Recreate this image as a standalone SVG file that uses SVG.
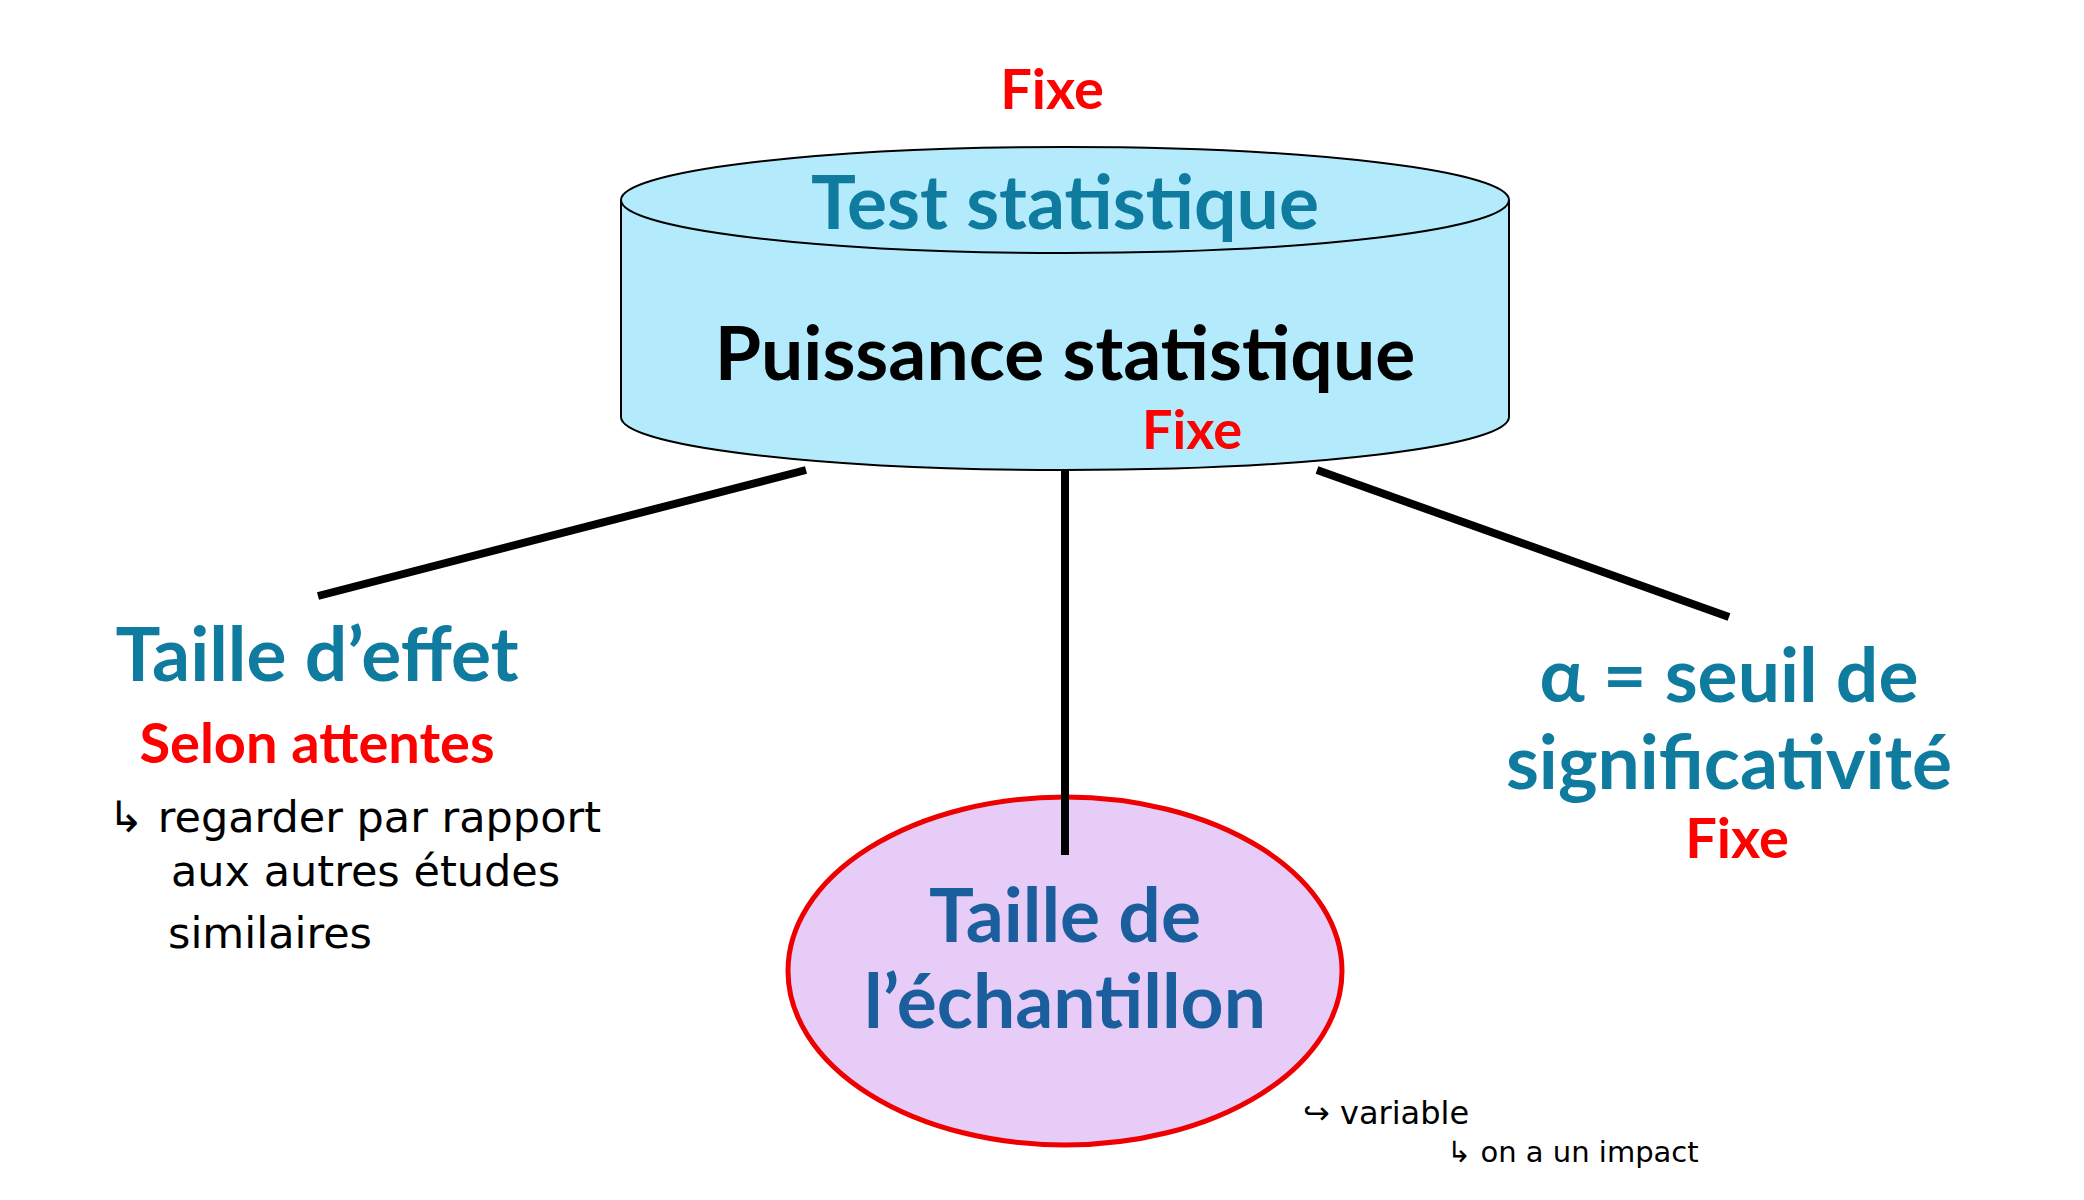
<svg xmlns="http://www.w3.org/2000/svg" width="2084" height="1200" viewBox="0 0 2084 1200">
<style>
.b{font-family:Lato,"Open Sans",sans-serif;font-weight:bold;text-anchor:middle}
.t{fill:#0e7b9f;font-size:75px}
.r{fill:#ff0000;font-size:56px}
.h{font-family:"DejaVu Sans",sans-serif;fill:#000;font-size:43px}
.s{font-family:"DejaVu Sans",sans-serif;fill:#000;font-size:32px}
</style>
<rect width="2084" height="1200" fill="#fff"/>
<g id="cylinder">
<path d="M621 200 L621 417 A444 53 0 0 0 1509 417 L1509 200" fill="#b3ebfd" stroke="#000" stroke-width="2"/>
<ellipse cx="1065" cy="200" rx="444" ry="53" fill="#b3ebfd" stroke="#000" stroke-width="2"/>
<text class="b r" x="1052" y="109">Fixe</text>
<text class="b t" x="1065" y="229">Test statistique</text>
<text class="b" x="1065" y="380" style="fill:#000;font-size:75px">Puissance statistique</text>
<text class="b r" x="1192" y="449" style="font-size:54px">Fixe</text>
</g>
<g id="effet">
<text class="b t" x="317" y="681">Taille d’effet</text>
<text class="b r" x="317" y="763">Selon attentes</text>
<text class="h" x="108" y="832">↳ regarder par rapport</text>
<text class="h" x="171" y="886">aux autres études</text>
<text class="h" x="168" y="948">similaires</text>
</g>
<g id="echantillon">
<ellipse cx="1065" cy="971" rx="277" ry="174" fill="#e8ccf8" stroke="#ee0000" stroke-width="5"/>
<text class="b" x="1065" y="942" style="fill:#1a5e9e;font-size:75px">Taille de</text>
<text class="b" x="1065" y="1028" style="fill:#1a5e9e;font-size:75px">l’échantillon</text>
<text class="s" x="1303" y="1124">↪ variable</text>
<text class="s" x="1447" y="1162" style="font-size:29px">↳ on a un impact</text>
</g>
<g id="alpha">
<text class="b t" x="1729" y="702">α = seuil de</text>
<text class="b t" x="1729" y="789">significativité</text>
<text class="b r" x="1737" y="858">Fixe</text>
</g>
<g id="connectors" stroke="#000" stroke-width="8">
<line x1="806" y1="470" x2="318" y2="596"/>
<line x1="1065" y1="470" x2="1065" y2="855"/>
<line x1="1317" y1="470" x2="1729" y2="617"/>
</g>
</svg>
